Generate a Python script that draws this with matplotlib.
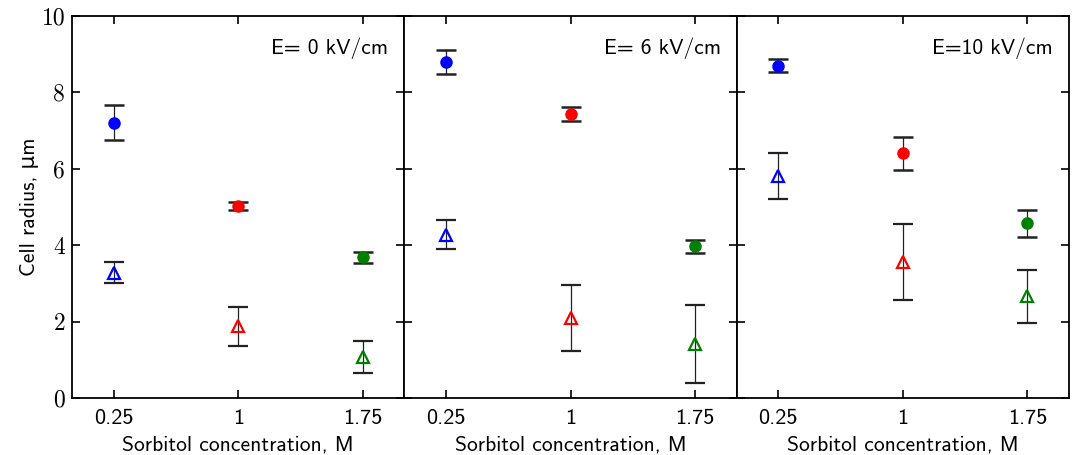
import matplotlib
matplotlib.use('Agg')
import matplotlib.pyplot as plt
import numpy as np

# sorbitol concentration, M
conc = [0.25, 1.0, 1.75]
conc_labels = ['0.25', '1', '1.75']
colors = ['#0000ff', '#ff0000', '#008000']
fields = ['E= 0 kV/cm', 'E= 6 kV/cm', 'E=10 kV/cm']

# filled circles (one list per field strength)
circ_y = [[7.21, 5.02, 3.68],
          [8.80, 7.43, 3.98],
          [8.70, 6.41, 4.57]]
circ_err = [[0.46, 0.11, 0.15],
            [0.31, 0.18, 0.17],
            [0.18, 0.43, 0.36]]

# open triangles
tri_y = [[3.28, 1.88, 1.08],
         [4.28, 2.09, 1.41],
         [5.82, 3.56, 2.66]]
tri_err = [[0.27, 0.51, 0.41],
           [0.37, 0.86, 1.02],
           [0.60, 0.99, 0.69]]

sans = ['cmss10', 'DejaVu Sans']

fig, axes = plt.subplots(1, 3, figsize=(10.77, 4.55), dpi=100, sharey=True)
fig.subplots_adjust(left=0.067, right=0.9926, bottom=0.125, top=0.965, wspace=0)


def draw_point(ax, x, y, e, c, filled):
    if filled:
        kw = dict(marker='o', markersize=8, markerfacecolor=c, markeredgecolor=c)
    else:
        kw = dict(marker='^', markersize=8, markerfacecolor='none',
                  markeredgecolor=c, markeredgewidth=1.6)
    eb = ax.errorbar([x], [y], yerr=[e], linestyle='none', ecolor='#222222',
                     elinewidth=0.9, capsize=7.5, capthick=1.8, zorder=2, **kw)
    for cap in eb[1]:
        cap.set_color('black')
    eb[0].set_zorder(3)


for i, ax in enumerate(axes):
    for j in range(3):
        draw_point(ax, conc[j], circ_y[i][j], circ_err[i][j], colors[j], True)
        draw_point(ax, conc[j], tri_y[i][j], tri_err[i][j], colors[j], False)
    ax.set_xlim(0, 2)
    ax.set_ylim(0, 10)
    ax.set_xticks(conc)
    ax.set_xticklabels(conc_labels, family=sans, fontsize=16)
    ax.set_yticks([0, 2, 4, 6, 8, 10])
    ax.tick_params(direction='in', length=6, width=1.2, top=True, right=True)
    ax.tick_params(axis='x', pad=8)
    ax.tick_params(axis='y', pad=5)
    for s in ax.spines.values():
        s.set_linewidth(1.3)
    ax.set_xlabel('Sorbitol concentration, M', family=sans, fontsize=15.5, labelpad=5)
    ax.text(0.952, 0.915, fields[i], transform=ax.transAxes, ha='right', va='center',
            family=sans, fontsize=15.5)

axes[0].set_yticklabels(['0', '2', '4', '6', '8', '10'], family=['cmr10', 'DejaVu Serif'],
                        fontsize=17)
axes[0].set_ylabel('Cell radius, μm', family=sans, fontsize=15.5, labelpad=2)

fig.savefig('out.png', dpi=100)
